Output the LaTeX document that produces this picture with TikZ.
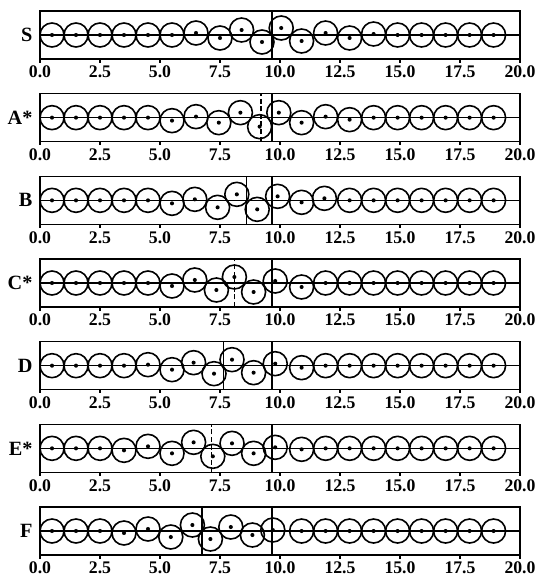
\documentclass[tikz,border=0pt]{standalone}
\usepackage{fontspec}
\setmainfont{Liberation Serif}

\tikzset{
  ball/.style={draw, line width=0.95pt},
  centre/.style={fill=black},
  frame/.style={line width=0.85pt},
  frontdash/.style={line width=0.85pt, dash pattern=on 3pt off 1.5pt},
  rowlabel/.style={anchor=east, inner sep=0pt, font=\fontsize{12}{14}\selectfont\bfseries},
  ticklabel/.style={inner sep=0pt, font=\fontsize{10.5}{12}\selectfont\bfseries}
}

% box, axis, wall at 9.67, ticks and row label (#1 name, #2 label)
\newcommand{\chainframe}[2]{%
  \draw[frame] (0,-1) rectangle (20,1);
  \draw[frame] (0,0) -- (20,0);
  \draw[frame] (9.67,-1) -- (9.67,1);
  \foreach \t [count=\i] in {0.0,2.5,5.0,7.5,10.0,12.5,15.0,17.5,20.0} {
    \draw[frame] (\t,-1) -- (\t,-1.15);
    \node[ticklabel] (tick#1\i) at (\t,-1.55) {\t};
  }
  \node[rowlabel] (lbl#1) at (-0.3,0) {#2};
}

% circles of one row: x / vertical offset in px
\newcommand{\chainballs}[1]{%
  \foreach \x/\d in {#1} {
    \draw[ball] (\x,{-(\d)/24}) circle (0.5);
    \fill[centre] (\x,{-(\d)/24}) circle (0.085);
  }
}

\begin{document}
\begin{tikzpicture}[x=0.5cm, y=0.5cm]
  \useasboundingbox (-1.667,0) rectangle (20.667,-24.208);

  % S
  \begin{scope}[shift={(0,-1.458)}]
    \chainframe{S}{S}
    \chainballs{0.5/0,1.5/0,2.5/0,3.5/0,4.5/0,5.5/0,6.5/-2,7.5/3,8.4/-5,9.25/7,10.05/-7,10.9/6,11.9/-2,12.9/3,13.9/-1,14.9/0,15.9/0,16.9/0,17.9/0,18.9/0}
  \end{scope}

  % A*
  \begin{scope}[shift={(0,-4.902)}]
    \chainframe{A}{A*}
    \draw[frontdash] (9.2,-1) -- (9.2,1);
    \chainballs{0.5/0,1.5/0,2.5/0,3.5/0,4.5/0,5.5/3,6.5/-1,7.45/5,8.35/-5,9.15/9,9.95/-5,10.9/5,11.9/-1,12.9/2,13.9/0,14.9/0,15.9/0,16.9/0,17.9/0,18.9/0}
  \end{scope}

  % B
  \begin{scope}[shift={(0,-8.347)}]
    \chainframe{B}{B}
    \draw[frame] (8.6,-1) -- (8.6,1);
    \chainballs{0.5/0,1.5/0,2.5/0,3.5/0,4.5/0,5.5/3,6.45/-1,7.4/7,8.2/-6,9.05/9,9.9/-4,10.9/2,11.85/-2,12.9/0,13.9/0,14.9/0,15.9/0,16.9/0,17.9/0,18.9/0}
  \end{scope}

  % C*
  \begin{scope}[shift={(0,-11.791)}]
    \chainframe{C}{C*}
    \draw[frontdash] (8.1,-1) -- (8.1,1);
    \chainballs{0.5/0,1.5/0,2.5/0,3.5/0,4.5/0,5.5/3,6.45/-3,7.35/7,8.1/-6,8.9/9,9.8/-2,10.9/4,11.9/0,12.9/0,13.9/0,14.9/0,15.9/0,16.9/0,17.9/0,18.9/0}
  \end{scope}

  % D
  \begin{scope}[shift={(0,-15.236)}]
    \chainframe{D}{D}
    \draw[frame] (7.65,-1) -- (7.65,1);
    \chainballs{0.5/0,1.5/0,2.5/0,3.5/0,4.5/-1,5.5/4,6.4/-3,7.25/8,8.0/-6,8.9/7,9.8/-2,10.9/2,11.9/0,12.9/0,13.9/0,14.9/0,15.9/0,16.9/0,17.9/0,18.9/0}
  \end{scope}

  % E*
  \begin{scope}[shift={(0,-18.680)}]
    \chainframe{E}{E*}
    \draw[frontdash] (7.15,-1) -- (7.15,1);
    \chainballs{0.5/0,1.5/0,2.5/0,3.5/2,4.5/-2,5.5/5,6.4/-6,7.2/8,8.0/-5,8.9/5,9.8/-1,10.9/1,11.9/0,12.9/0,13.9/0,14.9/0,15.9/0,16.9/0,17.9/0,18.9/0}
  \end{scope}

  % F
  \begin{scope}[shift={(0,-22.125)}]
    \chainframe{F}{F}
    \draw[frame] (6.75,-1) -- (6.75,1);
    \chainballs{0.5/0,1.5/0,2.5/0,3.5/2,4.5/-2,5.45/6,6.35/-6,7.1/8,7.95/-4,8.85/4,9.7/-1,10.9/0,11.9/0,12.9/0,13.9/0,14.9/0,15.9/0,16.9/0,17.9/0,18.9/0}
  \end{scope}
\end{tikzpicture}
\end{document}
